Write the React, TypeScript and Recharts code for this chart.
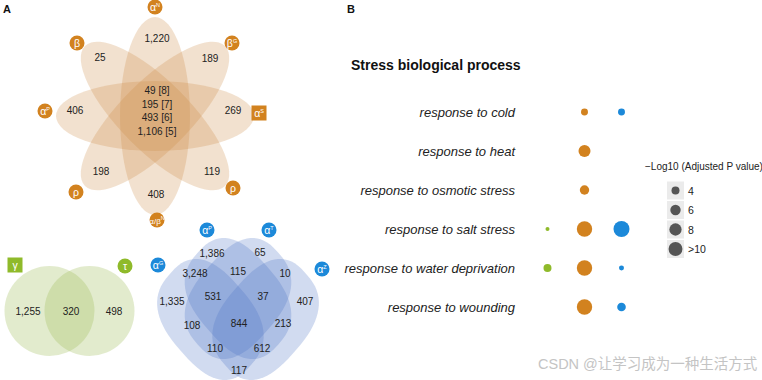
import React from "react";
import { ScatterChart, Scatter, XAxis, YAxis, ZAxis } from "recharts";

const FONT = '"Liberation Sans", Arial, Helvetica, sans-serif';

// ---------- panel A: set names and region counts ----------
// flower venn, clockwise from the top
const flowerSets = ["α^N", "β^G", "α^S", "ρ", "α/β^N", "ρ", "α^P", "β"];
const flowerCounts = ["1,220", "189", "269", "119", "408", "198", "406", "25"];
const flowerCore = ["49 [8]", "195 [7]", "493 [6]", "1,106 [5]"];

const pairSets = ["γ", "τ"];
const pairCounts = ["1,255", "320", "498"];

const quadSets = ["α^G", "α^P", "α^T", "α^Z"];
const quadCounts = [
  "1,386", "65", "3,248", "115", "10", "1,335", "531", "37",
  "407", "108", "844", "213", "110", "612", "117",
];

// ---------- panel B: -log10 adjusted p values ----------
const processes = [
  "response to cold",
  "response to heat",
  "response to osmotic stress",
  "response to salt stress",
  "response to water deprivation",
  "response to wounding",
];
const greenValues = [null, null, null, 1.8, 4.0, null];
const orangeValues = [3.3, 7.7, 5.1, 12, 12, 12];
const blueValues = [3.3, null, null, 12.9, 2.2, 4.5];
const legendValues = [4, 6, 8, 10];
const legendLabels = ["4", "6", "8", ">10"];

// ---------- layout (pixel positions on the 762x380 page) ----------
const ORANGE = "#d2821f";
const GREEN = "#8fba2a";
const BLUE = "#1c89d9";

const flowerCenter = { x: 155, y: 116 };
const flowerAngles = [0, 45, 90, 135];
const flowerBadgeXY = [[155, 7], [232, 43], [259, 113], [233, 188], [157, 220], [76, 192], [45, 111], [77, 43]];
const flowerCountXY = [[157, 38], [210, 58], [233, 110], [212, 171], [156, 194], [101, 171], [75, 110], [100, 57]];
const flowerCoreY = [90, 104, 117, 131];

const pairCircleXY = [[49.5, 311], [89.5, 311]];
const pairBadgeXY = [[15, 265], [125, 266]];
const pairCountXY = [[28, 311], [71, 311], [114, 311]];

// quad venn: unit-square superellipses scaled into a box
const quadBox = { x: 146, y: 208.7, sx: 184, sy: 209 };
const quadUnit = [
  { x: 0.35, y: 0.53, angle: 45 },
  { x: 0.5, y: 0.43, angle: 45 },
  { x: 0.5, y: 0.43, angle: -45 },
  { x: 0.65, y: 0.53, angle: -45 },
];
const quadBadgeXY = [[158, 265], [207, 230], [269, 230], [322, 269]];
const quadCountXY = [
  [212, 253], [260, 252], [195, 273], [238, 271], [285, 273], [172, 301], [213, 296], [263, 296],
  [305, 301], [192, 325], [239, 323], [283, 323], [215, 348], [262, 348], [239, 370],
];

const Z_DOMAIN: [number, number] = [1.8, 13];
const Z_RANGE: [number, number] = [12.6, 203];
const zRadius = (v: number) => {
  const area = Z_RANGE[0] + ((v - Z_DOMAIN[0]) / (Z_DOMAIN[1] - Z_DOMAIN[0])) * (Z_RANGE[1] - Z_RANGE[0]);
  return Math.sqrt(area / Math.PI);
};

// rounded-rectangle-ish outline (superellipse) centred on 0,0
const superPath = (a: number, b: number, n: number) => {
  const pts: string[] = [];
  for (let i = 0; i < 72; i++) {
    const t = (i / 72) * Math.PI * 2;
    const c = Math.cos(t), s = Math.sin(t);
    const x = a * Math.sign(c) * Math.pow(Math.abs(c), 2 / n);
    const y = b * Math.sign(s) * Math.pow(Math.abs(s), 2 / n);
    pts.push(`${x.toFixed(4)},${y.toFixed(4)}`);
  }
  return `M${pts.join("L")}Z`;
};

// ---------- shapes ----------
const EllipseShape = (props: any) => {
  const { cx, cy, payload } = props;
  const transform = `translate(${cx},${cy}) scale(${payload.sx},${payload.sy}) rotate(${payload.angle})`;
  if (payload.n) {
    return <path d={superPath(payload.rx, payload.ry, payload.n)} transform={transform} fill={payload.fill} fillOpacity={payload.opacity} />;
  }
  return (
    <ellipse cx={0} cy={0} rx={payload.rx} ry={payload.ry} transform={transform} fill={payload.fill} fillOpacity={payload.opacity} />
  );
};

const BadgeShape = (props: any) => {
  const { cx, cy, payload } = props;
  const [base, sup] = payload.label.split("^");
  return (
    <g>
      {payload.square ? (
        <rect x={cx - 7.5} y={cy - 7.5} width={15} height={15} fill={payload.color} />
      ) : (
        <circle cx={cx} cy={cy} r={7.5} fill={payload.color} />
      )}
      <text x={cx} y={cy + 3.5} textAnchor="middle" fill="#fff" fontSize={base.length > 1 ? 8 : 10.5} fontFamily={FONT}>
        {base}
        {sup && (
          <tspan fontSize={5.5} dy={-3.5}>
            {sup}
          </tspan>
        )}
      </text>
    </g>
  );
};

const CountShape = (props: any) => {
  const { cx, cy, payload } = props;
  return (
    <text x={cx} y={cy + 3.6} textAnchor="middle" fill="#222" fontSize={10} fontFamily={FONT}>
      {payload.label}
    </text>
  );
};

// ---------- build point lists ----------
const ellipses = [
  ...flowerAngles.map((a) => ({
    x: flowerCenter.x, y: flowerCenter.y, rx: 99, ry: 35, sx: 1, sy: 1, angle: a, fill: "#cd8c46", opacity: 0.26, n: 0,
  })),
  ...pairCircleXY.map(([x, y]) => ({ x, y, rx: 45, ry: 45, sx: 1, sy: 1, angle: 0, fill: "#a0be5a", opacity: 0.3, n: 0 })),
  ...quadUnit.map((q) => ({
    x: quadBox.x + q.x * quadBox.sx,
    y: quadBox.y + q.y * quadBox.sy,
    rx: 0.31, ry: 0.22, sx: quadBox.sx, sy: quadBox.sy, angle: q.angle, fill: "#466ec3", opacity: 0.25, n: 2.6,
  })),
];

const badges = [
  ...flowerSets.map((label, i) => ({ x: flowerBadgeXY[i][0], y: flowerBadgeXY[i][1], label, color: ORANGE, square: i === 2 })),
  ...pairSets.map((label, i) => ({ x: pairBadgeXY[i][0], y: pairBadgeXY[i][1], label, color: GREEN, square: i === 0 })),
  ...quadSets.map((label, i) => ({ x: quadBadgeXY[i][0], y: quadBadgeXY[i][1], label, color: BLUE, square: false })),
];

const counts = [
  ...flowerCounts.map((label, i) => ({ x: flowerCountXY[i][0], y: flowerCountXY[i][1], label })),
  ...flowerCore.map((label, i) => ({ x: 157, y: flowerCoreY[i], label })),
  ...pairCounts.map((label, i) => ({ x: pairCountXY[i][0], y: pairCountXY[i][1], label })),
  ...quadCounts.map((label, i) => ({ x: quadCountXY[i][0], y: quadCountXY[i][1], label })),
];

const toPoints = (values: (number | null)[], group: number) =>
  values
    .map((z, row) => ({ row, group, z }))
    .filter((d) => d.z !== null);

const greenPts = toPoints(greenValues, 1);
const orangePts = toPoints(orangeValues, 2);
const bluePts = toPoints(blueValues, 3);

export default function App() {
  return (
    <div style={{ position: "absolute", left: 0, top: 0, width: 762, height: 380, background: "#fff", fontFamily: FONT }}>
      <svg width={762} height={380} style={{ position: "absolute", left: 0, top: 0 }}>
        <text x={3} y={13} fontSize={11} fontWeight="bold" fill="#111" fontFamily={FONT}>A</text>
        <text x={347} y={13} fontSize={11} fontWeight="bold" fill="#111" fontFamily={FONT}>B</text>
        <text x={351} y={70} fontSize={14} fontWeight="bold" fill="#111" fontFamily={FONT}>Stress biological process</text>
        <text x={645} y={169.5} fontSize={10} fill="#222" fontFamily={FONT}>−Log10 (Adjusted P value)</text>
        {legendValues.map((v, i) => {
          const cy = 190.5 + i * 19.5;
          return (
            <g key={v}>
              <rect x={667} y={cy - 9} width={17} height={18} fill="#ebebeb" />
              <circle cx={675.5} cy={cy} r={zRadius(v)} fill="#555" />
              <text x={688} y={cy + 4} fontSize={10.5} fill="#222" fontFamily={FONT}>{legendLabels[i]}</text>
            </g>
          );
        })}
        <text x={538} y={369} fontSize={14.5} fill="#c4c4c4" fontFamily={`${FONT}, "Noto Sans CJK SC"`}>CSDN @让学习成为一种生活方式</text>
      </svg>

      {/* panel A: venn diagrams drawn on a pixel-scaled scatter */}
      <div style={{ position: "absolute", left: 0, top: 0 }}>
        <ScatterChart width={762} height={380} margin={{ top: 0, right: 0, bottom: 0, left: 0 }}>
          <XAxis type="number" dataKey="x" domain={[0, 762]} allowDataOverflow hide />
          <YAxis type="number" dataKey="y" domain={[0, 380]} allowDataOverflow reversed hide />
          <Scatter data={ellipses} shape={EllipseShape} isAnimationActive={false} />
          <Scatter data={counts} shape={CountShape} isAnimationActive={false} />
          <Scatter data={badges} shape={BadgeShape} isAnimationActive={false} />
        </ScatterChart>
      </div>

      {/* panel B: dot plot */}
      <div style={{ position: "absolute", left: 0, top: 0 }}>
        <ScatterChart width={762} height={380} margin={{ top: 92.5, right: 122, bottom: 53.5, left: 340 }}>
          <XAxis type="number" dataKey="group" domain={[0.5, 3.5]} allowDataOverflow hide />
          <YAxis
            type="number"
            dataKey="row"
            domain={[-0.5, 5.5]}
            allowDataOverflow
            reversed
            ticks={[0, 1, 2, 3, 4, 5]}
            interval={0}
            tickFormatter={(v: number) => processes[v]}
            width={189}
            axisLine={false}
            tickLine={false}
            tickSize={0}
            tickMargin={14}
            tick={{ fontSize: 13, fontStyle: "italic", fill: "#222", fontFamily: FONT }}
          />
          <ZAxis type="number" dataKey="z" domain={Z_DOMAIN} range={Z_RANGE} />
          <Scatter data={greenPts} fill={GREEN} isAnimationActive={false} />
          <Scatter data={orangePts} fill={ORANGE} isAnimationActive={false} />
          <Scatter data={bluePts} fill={BLUE} isAnimationActive={false} />
        </ScatterChart>
      </div>
    </div>
  );
}
